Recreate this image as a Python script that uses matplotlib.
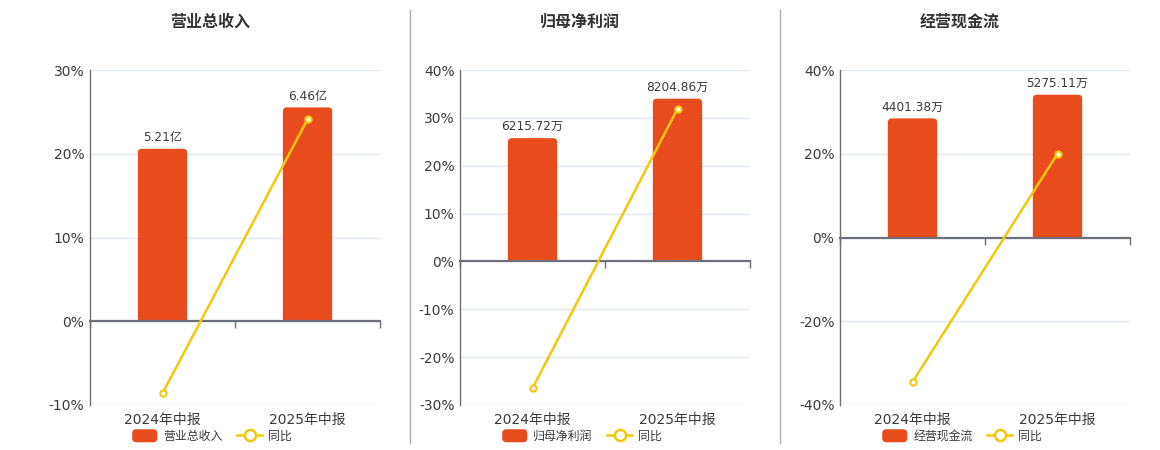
import matplotlib
matplotlib.use("Agg")
import matplotlib.pyplot as plt
from matplotlib.lines import Line2D
from matplotlib.patches import Patch, FancyBboxPatch, Rectangle
from matplotlib.legend_handler import HandlerPatch
import numpy as np

plt.rcParams['font.family'] = ['DejaVu Sans', 'Noto Sans CJK SC']

# ---- data ----
categories = ['2024年中报', '2025年中报']
titles = ['营业总收入', '归母净利润', '经营现金流']
bar_values = [[5.21, 6.46], [6215.72, 8204.86], [4401.38, 5275.11]]
bar_units = ['亿', '万', '万']
yoy_values = [[-8.6, 24.1], [-26.5, 31.9], [-34.5, 20.0]]
yoy_ticks = [[-10, 0, 10, 20, 30], [-30, -20, -10, 0, 10, 20, 30, 40], [-40, -20, 0, 20, 40]]
yoy_name = '同比'

# ---- style ----
BAR_C = '#E84B1C'
LINE_C = '#F3C80C'
TXT = '#3A3A3A'
AXC = '#6E7079'
GRID = '#E3E7F0'
bar_axis_max = [7.59, 9651, 6189]   # scale of hidden bar axis (zero aligned)

W, H = 1160, 450
fig = plt.figure(figsize=(W / 100, H / 100), dpi=100)

lefts = [90, 460, 840]
title_x = [210, 580, 960]
legend_x = [212, 582, 962]
ax_w, ax_top, ax_bot = 290, 70, 405
RAD_PX = 4


class RoundHandler(HandlerPatch):
    def create_artists(self, legend, orig_handle, xdescent, ydescent, width, height, fontsize, trans):
        p = FancyBboxPatch((-xdescent, -ydescent), width, height,
                           boxstyle='round,pad=0,rounding_size=3',
                           facecolor=orig_handle.get_facecolor(), edgecolor='none',
                           transform=trans)
        return [p]


for i in range(3):
    rect = [lefts[i] / W, 1 - ax_bot / H, ax_w / W, (ax_bot - ax_top) / H]
    ax = fig.add_axes(rect)
    axb = fig.add_axes(rect, label=f'bars{i}')
    axl = fig.add_axes(rect, label=f'line{i}')
    for a in (axb, axl):
        a.patch.set_visible(False)
    x = np.arange(len(categories))
    lo, hi = yoy_ticks[i][0], yoy_ticks[i][-1]
    ax.set_ylim(lo, hi)
    axl.set_ylim(lo, hi)
    bmax = bar_axis_max[i]
    bmin = bmax * lo / hi
    axb.set_ylim(bmin, bmax)
    for a in (ax, axb, axl):
        a.set_xlim(-0.5, 1.5)

    # grid / ticks on base axis
    ax.set_yticks(yoy_ticks[i])
    ax.set_yticklabels([f'{t}%' for t in yoy_ticks[i]])
    ax.yaxis.grid(True, color=GRID, lw=1)
    ax.set_axisbelow(True)
    ax.tick_params(axis='y', length=0, labelsize=10, labelcolor=TXT, pad=4)
    ax.set_xticks(x)
    ax.set_xticklabels(categories)
    ax.tick_params(axis='x', length=0, labelsize=10, labelcolor=TXT, pad=6)
    for s in ('top', 'right', 'bottom'):
        ax.spines[s].set_visible(False)
    ax.spines['left'].set_color(AXC)
    ax.spines['left'].set_linewidth(1)

    # bars (rounded tops)
    bars = axb.bar(x, bar_values[i], width=0.34, color=BAR_C, zorder=2)
    rx = RAD_PX * 2.0 / ax_w
    ry = RAD_PX * (bmax - bmin) / (ax_bot - ax_top)
    clip = Rectangle((-0.5, 0), 2, bmax, transform=axb.transData)
    for b, v in zip(bars, bar_values[i]):
        b.set_visible(False)
        fb = FancyBboxPatch((b.get_x(), -ry), b.get_width(), b.get_height() + ry,
                            boxstyle=f'round,pad=0,rounding_size={rx}',
                            mutation_aspect=ry / rx, facecolor=BAR_C, edgecolor='none', zorder=2)
        axb.add_patch(fb)
        fb.set_clip_path(clip)
        axb.annotate(f'{v:.2f}{bar_units[i]}', (b.get_x() + b.get_width() / 2, v),
                     xytext=(0, 3.5), textcoords='offset points', ha='center', va='bottom',
                     fontsize=8.7, color=TXT)
    axb.yaxis.set_visible(False)
    for s in ('top', 'right', 'left'):
        axb.spines[s].set_visible(False)
    axb.spines['bottom'].set_position(('data', 0))
    axb.spines['bottom'].set_color(AXC)
    axb.spines['bottom'].set_linewidth(1.6)
    axb.spines['bottom'].set_zorder(3)
    axb.set_xticks([])
    axb.set_xticks([-0.5, 0.5, 1.5], minor=True)
    axb.tick_params(axis='x', which='minor', length=5, width=1, color=AXC, direction='out')
    axb.tick_params(axis='x', which='both', labelbottom=False)

    # line
    axl.plot(x, yoy_values[i], color=LINE_C, lw=1.8, marker='o', ms=4.5,
             mfc='white', mec=LINE_C, mew=1.5, zorder=3, clip_on=False)
    axl.set_xticks([])
    axl.set_yticks([])
    for s in axl.spines.values():
        s.set_visible(False)

    fig.text(title_x[i] / W, 1 - 22 / H, titles[i], ha='center', va='center',
             fontsize=11.5, fontweight='bold', color='#333333')

    handles = [Patch(facecolor=BAR_C, edgecolor=BAR_C, label=titles[i]),
               Line2D([0], [0], color=LINE_C, lw=1.8, marker='o', ms=8,
                      mfc='white', mec=LINE_C, mew=1.8, label=yoy_name)]
    fig.legend(handles=handles, loc='center', bbox_to_anchor=(legend_x[i] / W, 1 - 436 / H),
               ncol=2, frameon=False, fontsize=8.6, handlelength=2.1, handleheight=1.3,
               columnspacing=1.2, handletextpad=0.5, labelcolor=TXT,
               handler_map={Patch: RoundHandler()})

# separators
for xs in (410, 780):
    fig.add_artist(Line2D([xs / W, xs / W], [1 - 10 / H, 1 - 443 / H], color='#B0B0B0', lw=1))

fig.savefig('out.png', dpi=100, facecolor='white')
